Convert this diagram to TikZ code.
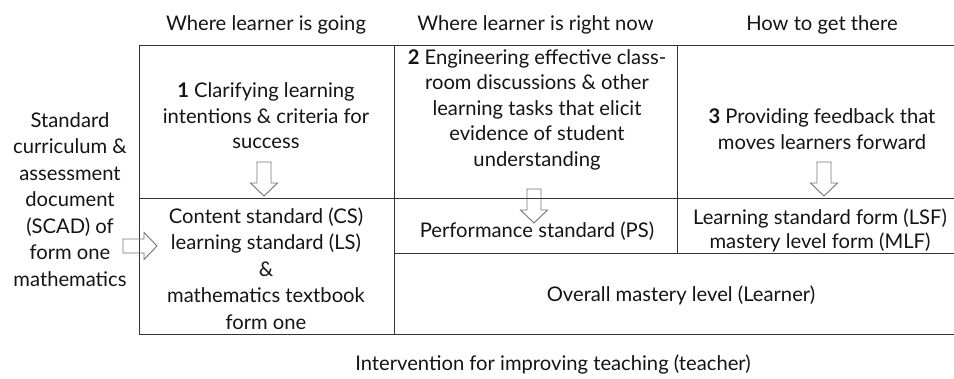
\documentclass[tikz,border=0pt]{standalone}
\usepackage{fontspec}
\setmainfont{Lato}
\begin{document}
\tikzset{
  txt/.style={font=\fontsize{20.2}{25.5}\selectfont, text=black!92, align=center, inner sep=0pt},
  grid/.style={draw=black!80, line width=1pt},
  hollow/.style={draw=black!55, line width=0.9pt, line join=miter},
  pics/downarr/.style={code={
    \draw[hollow] (-7,0) -- (7,0) -- (7,21) -- (13.5,21) -- (0,34) -- (-13.5,21) -- (-7,21) -- cycle;}}
}
\begin{tikzpicture}[x=1pt,y=-1pt]
\useasboundingbox (0,0) rectangle (954,379);
% grid coordinates
\coordinate (A0) at (139,46);  \coordinate (A1) at (394,46);  \coordinate (A2) at (677,46);  \coordinate (A3) at (954,46);
\coordinate (B0) at (139,199); \coordinate (B3) at (954,199);
\coordinate (C1) at (394,254); \coordinate (C2) at (677,254); \coordinate (C3) at (954,254);
\coordinate (D0) at (139,335); \coordinate (D1) at (394,335); \coordinate (D3) at (954,335);
% lines
\draw[grid] (A0) -- (A3);
\draw[grid] (B0) -- (B3);
\draw[grid] (C1) -- (C3);
\draw[grid] (D0) -- (D3);
\draw[grid] (A0) -- (D0);
\draw[grid] (A1) -- (D1);
\draw[grid] (A2) -- (C2);
% headers
\node[txt] (h1) at (266,24.5) {Where learner is going};
\node[txt] (h2) at (535.5,24.5) {Where learner is right now};
\node[txt] (h3) at (822,24.5) {How to get there};
% cells
\node[txt] (c1) at (266,116) {\textbf{1} Clarifying learning\\intentions \& criteria for\\success};
\node[txt] (c2) at (537,109.6) {\textbf{2} Engineering effective class-\\room discussions \& other\\learning tasks that elicit\\evidence of student\\understanding};
\node[txt] (c3) at (822,129) {\textbf{3} Providing feedback that\\moves learners forward};
\node[txt, font=\fontsize{20.2}{26.5}\selectfont] (scad) at (70,199.6) {Standard\\curriculum \&\\assessment\\document\\(SCAD) of\\form one\\mathematics};
\node[txt, font=\fontsize{20.2}{26.5}\selectfont] (cs) at (266,268.5) {Content standard (CS)\\learning standard (LS)\\\&\\mathematics textbook\\form one};
\node[txt] (ps) at (537,231) {Performance standard (PS)};
\node[txt, font=\fontsize{20.2}{23.5}\selectfont] (lsf) at (820,230.5) {Learning standard form (LSF)\\mastery level form (MLF)};
\node[txt] (ovl) at (681,295) {Overall mastery level (Learner)};
\node[txt] (int) at (553,365) {Intervention for improving teaching (teacher)};
% hollow arrows
\pic at (264,162) {downarr};
\pic at (534,189) {downarr};
\pic at (824,162) {downarr};
\pic[rotate=90] at (123,246) {downarr};
\end{tikzpicture}
\end{document}
